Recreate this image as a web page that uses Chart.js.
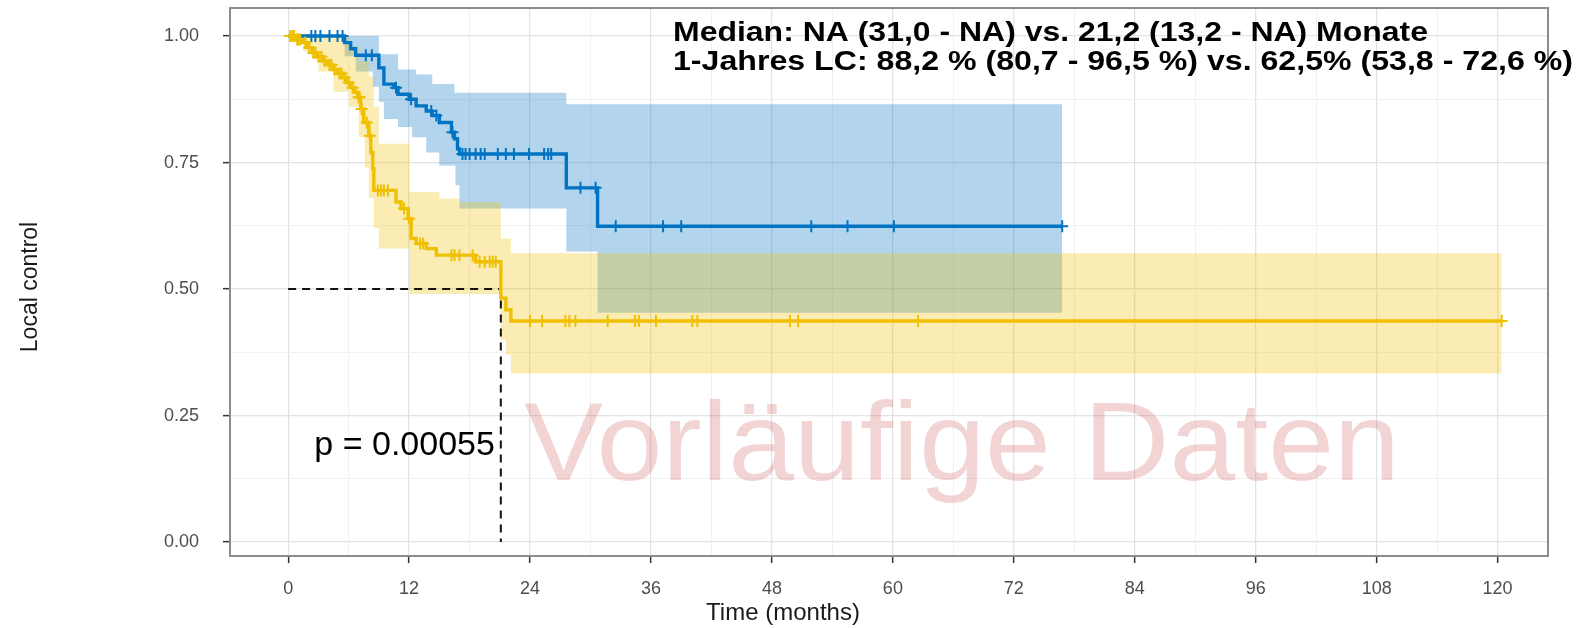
<!DOCTYPE html>
<html><head><meta charset="utf-8">
<script src="https://cdn.jsdelivr.net/npm/chart.js@4.4.1/dist/chart.umd.min.js"></script>
<style>html,body{margin:0;padding:0;background:#fff}#wrap{position:relative;width:1579px;height:628px}</style>
</head><body><div id="wrap"><canvas id="km" width="1579" height="628"></canvas></div>
<script>
'use strict';
const BLUE='#0073C2',YELLOW='#EFC000';
// group 1 (blue): KM steps, censor times, CI bounds
const BLUE_T=[0,5.6,6.2,6.7,9.0,9.5,10.5,10.9,12.0,12.7,13.7,14.3,15.0,16.2,16.5,16.8,17.0,27.6,30.7,76.8];
const BLUE_S=[1,0.987,0.975,0.962,0.937,0.905,0.898,0.885,0.875,0.862,0.852,0.843,0.829,0.810,0.797,0.777,0.767,0.700,0.624,0.624];
const BLUE_CENS=[2.3,2.7,3.2,4.1,4.9,5.4,7.7,8.3,10.7,12.2,14.2,14.7,16.3,17.3,17.6,18.0,18.6,19.1,19.5,20.8,21.6,22.4,23.9,25.4,25.8,26.1,29.0,30.5,32.5,37.2,39.0,51.9,55.5,60.1,76.8];
const BLUE_UP_T=[0,9.0,10.9,12.7,14.3,16.5,27.6,76.8];
const BLUE_UP_S=[1,0.964,0.934,0.924,0.905,0.888,0.865,0.865];
const BLUE_LO_T=[0,5.6,6.7,8.4,9.0,9.5,10.9,12.3,13.7,15.0,16.6,17.0,27.6,30.7,76.8];
const BLUE_LO_S=[1,0.96,0.93,0.90,0.87,0.836,0.82,0.80,0.77,0.744,0.705,0.659,0.574,0.453,0.453];
// group 2 (yellow)
const YEL_T=[0,0.8,1.4,1.9,2.4,2.9,3.4,3.9,4.4,4.9,5.4,5.8,6.2,6.6,6.9,7.2,7.5,8.0,8.2,8.4,8.5,10.7,11.2,11.9,12.2,12.7,13.7,14.7,18.6,21.1,21.6,22.1,120.4];
const YEL_S=[1,0.993,0.987,0.977,0.967,0.959,0.951,0.943,0.934,0.926,0.918,0.908,0.898,0.889,0.879,0.856,0.829,0.803,0.770,0.738,0.695,0.672,0.659,0.639,0.600,0.590,0.580,0.567,0.554,0.482,0.459,0.437,0.437];
const YEL_CENS=[0.2,0.4,0.6,0.9,1.0,1.2,1.7,2.1,2.5,2.7,3.0,3.3,3.6,4.1,4.3,4.6,5.1,5.3,5.6,6.0,6.4,7.0,7.1,7.3,7.8,8.1,8.9,9.2,9.5,9.9,11.5,12.0,13.1,13.4,16.2,16.5,17.0,18.3,19.0,19.5,20.0,20.3,20.6,24.0,25.2,27.5,27.9,28.5,31.7,34.4,34.8,36.5,40.1,40.6,49.8,50.6,62.5,120.4];
const YEL_UP_T=[0,6.0,7.0,8.0,8.5,9.0,12.0,15.0,17.0,21.1,22.1,120.4];
const YEL_UP_S=[1,0.98,0.95,0.92,0.86,0.787,0.692,0.679,0.672,0.60,0.571,0.571];
const YEL_LO_T=[0,1.5,3.0,4.5,6.0,7.0,7.6,8.0,8.5,9.0,12.0,21.1,21.6,22.1,120.4];
const YEL_LO_S=[1,0.97,0.93,0.89,0.86,0.80,0.74,0.68,0.62,0.58,0.49,0.40,0.37,0.333,0.333];
const MEDIAN_T=21.1,MEDIAN_S=0.5;
const P_X=2.6,P_Y=0.191,P_TEXT='p = 0.00055';
const X_TICKS=[0,6,12,18,24,30,36,42,48,54,60,66,72,78,84,90,96,102,108,114,120];
const X_LABELS=['0','','12','','24','','36','','48','','60','','72','','84','','96','','108','','120'];
const Y_TICKS=[0,0.125,0.25,0.375,0.5,0.625,0.75,0.875,1];
const Y_LABELS=['0.00','','0.25','','0.50','','0.75','','1.00'];
const NOTE1='Median: NA (31,0 - NA) vs. 21,2 (13,2 - NA) Monate';
const NOTE2='1-Jahres LC: 88,2 % (80,7 - 96,5 %) vs. 62,5% (53,8 - 72,6 %)';
const WATERMARK='Vorläufige Daten';

const pts=(T,S)=>T.map((t,i)=>({x:t,y:S[i]}));
const survAt=(T,S,t)=>{let s=S[0];T.forEach((v,i)=>{if(v<=t)s=S[i];});return s;};
const cens=(T,S,C)=>C.map(t=>({x:t,y:survAt(T,S,t)}));
const FONT='"Liberation Sans", Arial, sans-serif';

function fitText(ctx,txt,x,y,w){
  const m=ctx.measureText(txt).width;
  ctx.save();ctx.translate(x,y);ctx.scale(w/m,1);ctx.fillText(txt,0,0);ctx.restore();
}

const decor={id:'decor',
  beforeDatasetsDraw(chart){
    const ctx=chart.ctx;
    ctx.save();
    ctx.font='112px '+FONT;ctx.fillStyle='rgba(200,60,60,0.22)';ctx.textBaseline='alphabetic';
    fitText(ctx,WATERMARK,524,480,876);
    ctx.restore();
  },
  afterDatasetsDraw(chart){
    const {ctx,chartArea:a,scales:{x,y}}=chart;
    ctx.save();
    ctx.strokeStyle='#8c8c8c';ctx.lineWidth=2;
    ctx.strokeRect(a.left,a.top,a.right-a.left,a.bottom-a.top);
    ctx.fillStyle='#000';ctx.textBaseline='middle';
    ctx.font='34px '+FONT;
    ctx.fillText(P_TEXT,x.getPixelForValue(P_X),y.getPixelForValue(P_Y));
    ctx.font='bold 27px '+FONT;ctx.textBaseline='alphabetic';
    fitText(ctx,NOTE1,673,41,755);
    fitText(ctx,NOTE2,673,70,900);
    ctx.fillStyle='#1a1a1a';ctx.font='24px '+FONT;ctx.textAlign='center';ctx.textBaseline='middle';
    ctx.fillText('Time (months)',783,613);
    ctx.translate(31,287);ctx.rotate(-Math.PI/2);ctx.font='23px '+FONT;
    ctx.fillText('Local control',0,0);
    ctx.restore();
  }
};

const line=(data,color,order)=>({data,borderColor:color,borderWidth:3.4,pointRadius:0,stepped:true,fill:false,order});
const marks=(data,color,order)=>({data,showLine:false,pointStyle:'cross',pointRadius:6,pointBorderWidth:2,pointBorderColor:color,pointBackgroundColor:color,order});
const band=(data,color,fill,order)=>({data,borderWidth:0,borderColor:'rgba(0,0,0,0)',pointRadius:0,stepped:true,fill,backgroundColor:color,order});

new Chart(document.getElementById('km'),{
  type:'line',
  data:{datasets:[
    band(pts(BLUE_UP_T,BLUE_UP_S),'rgba(0,115,194,0.3)','+1',9),
    band(pts(BLUE_LO_T,BLUE_LO_S),'rgba(0,115,194,0.3)',false,8),
    band(pts(YEL_UP_T,YEL_UP_S),'rgba(239,192,0,0.3)','+1',7),
    band(pts(YEL_LO_T,YEL_LO_S),'rgba(239,192,0,0.3)',false,6),
    {data:[{x:0,y:MEDIAN_S},{x:MEDIAN_T,y:MEDIAN_S},{x:MEDIAN_T,y:0}],borderColor:'#111',borderWidth:2,borderDash:[8,6],pointRadius:0,fill:false,order:5},
    line(pts(BLUE_T,BLUE_S),BLUE,4),
    marks(cens(BLUE_T,BLUE_S,BLUE_CENS),BLUE,3),
    line(pts(YEL_T,YEL_S),YELLOW,2),
    marks(cens(YEL_T,YEL_S,YEL_CENS),YELLOW,1)
  ]},
  options:{
    responsive:false,animation:false,
    layout:{padding:{left:0,right:31,top:5,bottom:0}},
    plugins:{legend:{display:false},tooltip:{enabled:false}},
    scales:{
      x:{type:'linear',min:-5.77,max:125.0,
        afterBuildTicks:s=>{s.ticks=X_TICKS.map(v=>({value:v}));},
        afterFit:s=>{s.height=72;s.paddingLeft=0;s.paddingRight=0;},
        border:{display:false},
        grid:{color:c=>X_LABELS[c.index]?'#e3e3e3':'#f1f1f1',lineWidth:c=>X_LABELS[c.index]?1.3:1,
          tickColor:c=>X_LABELS[c.index]?'#333':'rgba(0,0,0,0)',tickLength:7,tickWidth:1.5},
        ticks:{autoSkip:false,maxRotation:0,padding:15,color:'#4d4d4d',font:{family:FONT,size:18},callback:(v,i)=>X_LABELS[i]}},
      y:{type:'linear',min:-0.0275,max:1.0554,
        afterBuildTicks:s=>{s.ticks=Y_TICKS.map(v=>({value:v}));},
        afterFit:s=>{s.width=230;s.paddingTop=0;s.paddingBottom=0;},
        border:{display:false},
        grid:{color:c=>Y_LABELS[c.index]?'#e3e3e3':'#f1f1f1',lineWidth:c=>Y_LABELS[c.index]?1.3:1,
          tickColor:c=>Y_LABELS[c.index]?'#333':'rgba(0,0,0,0)',tickLength:7,tickWidth:1.5},
        ticks:{autoSkip:false,padding:24,color:'#4d4d4d',font:{family:FONT,size:18},callback:(v,i)=>Y_LABELS[i]}}
    }
  },
  plugins:[decor]
});
</script></body></html>
